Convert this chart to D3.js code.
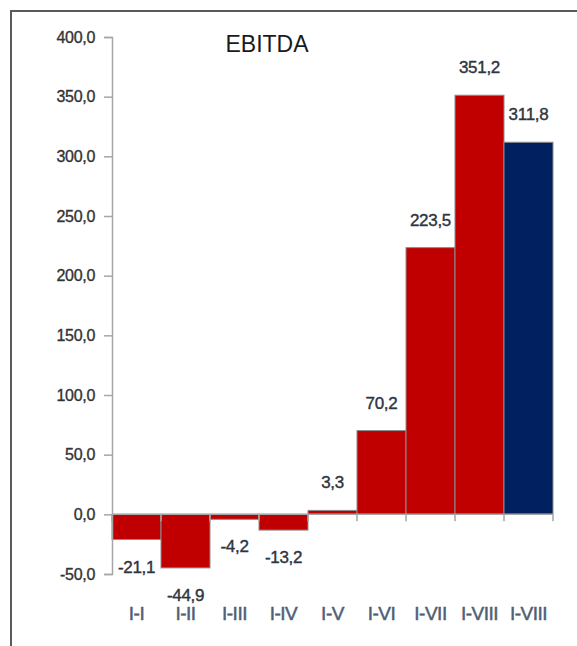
<!DOCTYPE html>
<html>
<head>
<meta charset="utf-8">
<script src="https://cdn.jsdelivr.net/npm/d3@7"></script>
<style>
  html, body { margin: 0; padding: 0; background: #fff; }
  svg { display: block; }
</style>
</head>
<body>
<div id="chart"></div>
<script>
// EBITDA by cumulative period
var categories = ["I-I", "I-II", "I-III", "I-IV", "I-V", "I-VI", "I-VII", "I-VIII", "I-VIII"];
var values = [-21.1, -44.9, -4.2, -13.2, 3.3, 70.2, 223.5, 351.2, 311.8];
var barColors = ["#c00000", "#c00000", "#c00000", "#c00000", "#c00000", "#c00000", "#c00000", "#c00000", "#002060"];
var yTicks = [-50, 0, 50, 100, 150, 200, 250, 300, 350, 400];

var width = 577, height = 646;
var margin = {left: 112, right: 24, top: 37, bottom: 72};

// decimal comma, plain hyphen for negatives
var fmt = function (v) { return d3.format(".1f")(v).replace(".", ",").replace("\u2212", "-"); };
var sans = "'Liberation Sans', Arial, sans-serif";

var svg = d3.select("#chart")
    .append("svg")
    .attr("width", width)
    .attr("height", height);

// frame of the chart area (runs off the right and bottom)
svg.append("path")
    .attr("d", "M11," + height + "V11H" + width)
    .attr("fill", "none")
    .attr("stroke", "#5a5a5a")
    .attr("stroke-width", 2);

var x = d3.scaleBand()
    .domain(d3.range(categories.length))
    .range([margin.left, margin.left + 441])
    .padding(0);

var y = d3.scaleLinear()
    .domain([-50, 400])
    .range([574, 37]);

// bars
svg.selectAll(".bar")
    .data(values)
    .enter().append("rect")
    .attr("class", "bar")
    .attr("x", function (d, i) { return x(i); })
    .attr("width", x.bandwidth())
    .attr("y", function (d) { return y(Math.max(0, d)); })
    .attr("height", function (d) { return Math.abs(y(d) - y(0)); })
    .attr("fill", function (d, i) { return barColors[i]; })
    .attr("stroke", "#8c8c8c")
    .attr("stroke-width", 1);

// y axis
var yAxis = d3.axisLeft(y)
    .tickValues(yTicks)
    .tickSize(8)
    .tickPadding(9)
    .tickFormat(fmt);

var gy = svg.append("g")
    .attr("transform", "translate(" + margin.left + ",0)")
    .call(yAxis);
gy.select(".domain").attr("stroke", "#a6a6a6").attr("stroke-width", 1.5);
gy.selectAll(".tick line").attr("stroke", "#a6a6a6").attr("stroke-width", 1.5);
gy.selectAll(".tick text")
    .attr("fill", "#333")
    .attr("stroke", "#333")
    .attr("stroke-width", 0.35)
    .style("font-family", sans)
    .style("font-size", "16px")
    .style("letter-spacing", "-0.3px");

// zero line with ticks between categories
var zeroAxis = svg.append("g");
zeroAxis.append("line")
    .attr("x1", margin.left).attr("x2", margin.left + 441)
    .attr("y1", y(0)).attr("y2", y(0))
    .attr("stroke", "#a6a6a6").attr("stroke-width", 1.5);
zeroAxis.selectAll(".sep")
    .data(d3.range(categories.length + 1))
    .enter().append("line")
    .attr("x1", function (i) { return margin.left + i * x.step(); })
    .attr("x2", function (i) { return margin.left + i * x.step(); })
    .attr("y1", y(0)).attr("y2", y(0) + 7)
    .attr("stroke", "#a6a6a6").attr("stroke-width", 1.5);

// category labels
svg.selectAll(".cat")
    .data(categories)
    .enter().append("text")
    .attr("class", "cat")
    .attr("x", function (d, i) { return x(i) + x.bandwidth() / 2; })
    .attr("y", 620)
    .attr("text-anchor", "middle")
    .attr("fill", "#4f5f76")
    .attr("stroke", "#4f5f76")
    .attr("stroke-width", 0.5)
    .style("font-family", sans)
    .style("font-size", "19px")
    .style("letter-spacing", "-0.5px")
    .text(function (d) { return d; });

// value labels
svg.selectAll(".val")
    .data(values)
    .enter().append("text")
    .attr("class", "val")
    .attr("x", function (d, i) { return x(i) + x.bandwidth() / 2; })
    .attr("y", function (d) { return d >= 0 ? y(d) - 22 : y(d) + 33; })
    .attr("text-anchor", "middle")
    .attr("fill", "#2f3540")
    .attr("stroke", "#2f3540")
    .attr("stroke-width", 0.4)
    .style("font-family", sans)
    .style("font-size", "17px")
    .style("letter-spacing", "-0.3px")
    .text(fmt);

// title
svg.append("text")
    .attr("x", 267)
    .attr("y", 52)
    .attr("text-anchor", "middle")
    .attr("fill", "#1a1a1a")
    .style("font-family", sans)
    .style("font-size", "23px")
    .text("EBITDA");
</script>
</body>
</html>
